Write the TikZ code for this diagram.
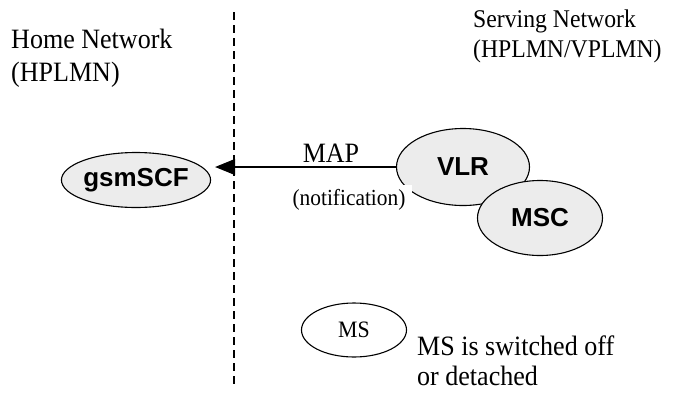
\documentclass[tikz,border=0pt]{standalone}
\usepackage{fontspec}
\setmainfont[FakeStretch=0.93]{Liberation Serif}
\newfontfamily\labelfont{Liberation Sans}
\usetikzlibrary{arrows.meta,positioning,shapes,calc}
\definecolor{gsmGray}{RGB}{236,236,236}

\tikzset{
  netnode/.style={ellipse, draw=black, line width=1.1pt, fill=gsmGray, inner sep=0pt,
    font=\labelfont\bfseries\fontsize{26}{30}\selectfont},
  nettext/.style={font=\fontsize{28}{33}\selectfont, align=left, inner sep=0pt},
}

\begin{document}
\begin{tikzpicture}[x=1pt, y=-1pt, line cap=butt, line join=round]
        \useasboundingbox (0,0) rectangle (686,392);
        % network boundary
        \draw[black, line width=1.3pt, dash pattern=on 8pt off 5pt] (234,12) -- (234,386);
        \node[nettext, anchor=north west] (home) at (11,29) {Home Network\\(HPLMN)};
        \node[nettext, anchor=north west, font=\fontsize{25.5}{30}\selectfont] (serving) at (473,9.5) {Serving Network\\(HPLMN/VPLMN)};
        % entities
        \node[netnode, minimum width=133pt, minimum height=55pt] (gsm) at (136,180) {gsmSCF};
        \node[netnode, minimum width=133pt, minimum height=77pt] (vlr) at (463,167) {VLR};
        \node[netnode, minimum width=125pt, minimum height=75pt] (msc) at (540,218) {MSC};
        \node[ellipse, draw=black, line width=1.1pt, minimum width=105pt, minimum height=54pt,
          inner sep=0pt, font=\fontsize{23.5}{28}\selectfont] (ms) at (354,330) {MS};
        \node[nettext, anchor=north west, font=\fontsize{28}{30}\selectfont] (msnote) at (417,336) {MS is switched off\\or detached};
        % interface
        \draw[line width=1.1pt, -{Triangle[length=20pt, width=16pt]}] (vlr.west) -- ([xshift=4pt]gsm.east |- vlr.west);
        \node[font=\fontsize{28}{33}\selectfont, inner sep=0pt, anchor=base] (map) at (331,162) {MAP};
        \node[font=\fontsize{23}{27}\selectfont, fill=white, inner xsep=7pt, inner ysep=4pt, anchor=base] (notif) at (349,205) {(notification)};
    \end{tikzpicture}
\end{document}
